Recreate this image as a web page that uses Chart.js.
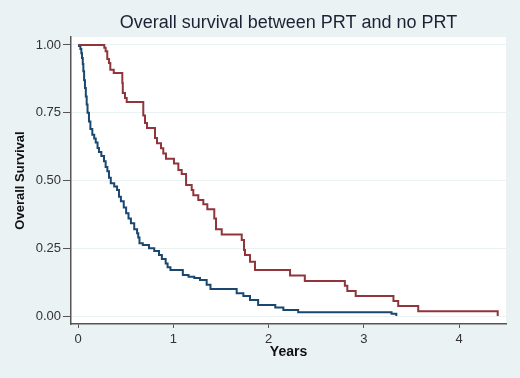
<!DOCTYPE html>
<html><head><meta charset="utf-8">
<script src="https://cdn.jsdelivr.net/npm/chart.js@4.4.0/dist/chart.umd.min.js"></script>
<style>html,body{margin:0;padding:0;background:#EAF2F3;overflow:hidden}#wrap{width:520px;height:378px}</style>
</head><body><div id="wrap"><canvas id="c" width="520" height="378"></canvas></div>
<script>
const chartTitle = "Overall survival between PRT and no PRT";
const xTitle = "Years";
const yTitle = "Overall Survival";
const xTicks = [0, 1, 2, 3, 4];
const yTicks = [0, 0.25, 0.5, 0.75, 1];

// PRT group (maroon)
const prtTime = [0,0.276,0.29,0.307,0.325,0.339,0.375,0.465,0.47,0.493,0.511,0.685,0.703,0.724,0.808,0.829,0.871,0.895,0.923,1.007,1.053,1.088,1.134,1.193,1.21,1.262,1.315,1.357,1.43,1.448,1.508,1.718,1.742,1.752,1.805,1.857,2.225,2.38,2.80,2.826,2.914,3.31,3.36,3.57,4.404];
const prtSurv = [1,0.99,0.977,0.948,0.934,0.909,0.897,0.86,0.823,0.804,0.79,0.74,0.712,0.694,0.657,0.637,0.619,0.60,0.58,0.563,0.539,0.524,0.483,0.465,0.446,0.428,0.412,0.394,0.36,0.32,0.301,0.28,0.244,0.225,0.20,0.17,0.149,0.129,0.112,0.092,0.074,0.055,0.037,0.018,0];

// no PRT group (navy)
const noPrtTime = [0,0.01,0.025,0.035,0.042,0.05,0.056,0.064,0.073,0.082,0.091,0.10,0.115,0.13,0.15,0.17,0.186,0.205,0.22,0.245,0.273,0.29,0.308,0.325,0.344,0.38,0.41,0.43,0.45,0.48,0.505,0.53,0.555,0.59,0.62,0.632,0.645,0.68,0.745,0.80,0.85,0.88,0.92,0.94,0.97,1.10,1.16,1.22,1.28,1.35,1.39,1.665,1.735,1.805,1.89,2.07,2.155,2.31,3.29,3.34];
const noPrtSurv = [1,0.996,0.985,0.97,0.952,0.93,0.903,0.87,0.841,0.81,0.78,0.75,0.718,0.69,0.669,0.655,0.64,0.62,0.605,0.59,0.571,0.55,0.534,0.51,0.49,0.478,0.465,0.44,0.423,0.40,0.379,0.36,0.342,0.32,0.305,0.29,0.268,0.262,0.25,0.24,0.225,0.21,0.194,0.18,0.17,0.151,0.145,0.14,0.133,0.115,0.10,0.084,0.074,0.059,0.041,0.031,0.022,0.014,0.008,0];

const FONT = "'Liberation Sans', Arial, Helvetica, sans-serif";
const toPts = (ts, ss) => ts.map((t, i) => ({x: t, y: ss[i]}));

const bgPlugin = {
  id: 'bg',
  beforeDraw(chart) {
    const {ctx, chartArea: a, width, height} = chart;
    ctx.save();
    ctx.fillStyle = '#EAF2F3';
    ctx.fillRect(0, 0, width, height);
    ctx.fillStyle = '#FFFFFF';
    ctx.fillRect(a.left, a.top, a.right - a.left, a.bottom - a.top);
    ctx.restore();
  }
};

new Chart(document.getElementById('c'), {
  type: 'line',
  data: {
    datasets: [
      {label: 'PRT', data: toPts(prtTime, prtSurv), borderColor: '#90353B', borderWidth: 2, stepped: true, pointRadius: 0, fill: false},
      {label: 'no PRT', data: toPts(noPrtTime, noPrtSurv), borderColor: '#1A476F', borderWidth: 2, stepped: true, pointRadius: 0, fill: false}
    ]
  },
  options: {
    responsive: false,
    animation: false,
    devicePixelRatio: 1,
    layout: {padding: {left: 0, right: 14, top: 0, bottom: 0}},
    plugins: {
      legend: {display: false},
      tooltip: {enabled: false},
      title: {display: true, text: chartTitle, fullSize: false, color: '#1c2233',
        font: {family: FONT, size: 18, weight: 'normal'}, padding: {top: 12, bottom: 3.4}}
    },
    scales: {
      x: {
        type: 'linear', position: 'bottom', min: -0.0735, max: 4.491,
        afterBuildTicks: s => { s.ticks = xTicks.map(v => ({value: v})); },
        afterFit: s => { s.height = 54; },
        ticks: {font: {family: FONT, size: 13}, color: '#333', padding: 4, maxRotation: 0, autoSkip: false, callback: v => String(v)},
        grid: {drawOnChartArea: false, drawTicks: true, tickLength: 4, tickColor: '#555', tickWidth: 1},
        border: {display: true, color: '#555', width: 1.5},
        title: {display: true, text: xTitle, color: '#111', font: {family: FONT, size: 14, weight: 'bold'}, padding: {top: 0, bottom: 17}}
      },
      y: {
        type: 'linear', position: 'left', min: -0.0295, max: 1.0295,
        afterBuildTicks: s => { s.ticks = yTicks.map(v => ({value: v})); },
        afterFit: s => { s.width = 71; },
        ticks: {font: {family: FONT, size: 13}, color: '#333', padding: 2, autoSkip: false, callback: v => Number(v).toFixed(2)},
        grid: {color: '#EAF2F3', lineWidth: 1, drawTicks: true, tickLength: 8, tickColor: '#555', tickWidth: 1},
        border: {display: true, color: '#555', width: 1.5},
        title: {display: true, text: yTitle, color: '#111', font: {family: FONT, size: 13, weight: 'bold'}, padding: {top: 13, bottom: 0}}
      }
    }
  },
  plugins: [bgPlugin]
});
</script>
</body></html>
